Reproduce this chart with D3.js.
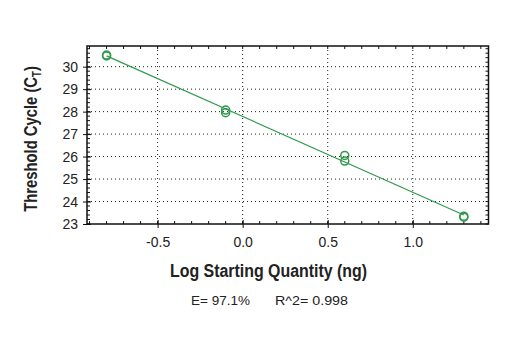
<!DOCTYPE html>
<html><head><meta charset="utf-8">
<script src="https://cdn.jsdelivr.net/npm/d3@7"></script>
<style>
body{margin:0;background:#fff;}
svg text{font-family:"Liberation Sans",Arial,sans-serif;}
</style></head>
<body><svg id="c" width="520" height="350"></svg>
<script>
const logQuantity = [-0.8, -0.8, -0.1, -0.1, 0.6, 0.6, 1.3, 1.3];
const thresholdCycle = [30.52, 30.48, 28.07, 27.95, 26.05, 25.8, 23.35, 23.3];
const xTicks = [-0.5, 0.0, 0.5, 1.0];
const yTicks = [23, 24, 25, 26, 27, 28, 29, 30];
const xLabel = "Log Starting Quantity (ng)";
const yLabel = "Threshold Cycle (C";
const yLabelSub = "T";
const statE = "E= 97.1%";
const statR = "R^2= 0.998";

const svg = d3.select("#c");
const L = 87, R = 488.5, T = 46, B = 224;
const x = d3.scaleLinear().domain([-0.915, 1.445]).range([L, R]);
const y = d3.scaleLinear().domain([23, 30.92]).range([B, T]);
const green = "#2f9a4c";
const fmtX = d => d3.format(".1f")(d).replace("\u2212", "-");

const g = svg.append("g");
g.selectAll(".gx").data(xTicks).join("line")
  .attr("x1", d => x(d)).attr("x2", d => x(d)).attr("y1", T).attr("y2", B)
  .attr("stroke", "#222").attr("stroke-width", 1).attr("stroke-dasharray", "1,3");
g.selectAll(".gy").data(yTicks.filter(d => d > 23)).join("line")
  .attr("x1", L).attr("x2", R).attr("y1", d => y(d)).attr("y2", d => y(d))
  .attr("stroke", "#222").attr("stroke-width", 1).attr("stroke-dasharray", "1,3");

const xMinor = d3.range(-9, 15).map(i => i / 10).filter(v => v >= -0.915 && v <= 1.445);
const yMinor = d3.range(115, 155).map(i => i / 5).filter(v => v >= 23 && v <= 30.92);
g.selectAll(".mxb").data(xMinor).join("line")
  .attr("x1", d => x(d)).attr("x2", d => x(d)).attr("y1", B).attr("y2", B - 3).attr("stroke", "#111");
g.selectAll(".mxt").data(xMinor).join("line")
  .attr("x1", d => x(d)).attr("x2", d => x(d)).attr("y1", T).attr("y2", T + 3).attr("stroke", "#111");
g.selectAll(".myl").data(yMinor).join("line")
  .attr("x1", L).attr("x2", L + 3).attr("y1", d => y(d)).attr("y2", d => y(d)).attr("stroke", "#111");
g.selectAll(".myr").data(yMinor).join("line")
  .attr("x1", R).attr("x2", R - 3).attr("y1", d => y(d)).attr("y2", d => y(d)).attr("stroke", "#111");

svg.append("g").attr("transform", `translate(0,${B})`)
  .call(d3.axisBottom(x).tickValues(xTicks).tickFormat(fmtX).tickSize(4).tickPadding(9))
  .call(a => a.select(".domain").remove())
  .call(a => a.selectAll("text").attr("font-size", 14).attr("fill", "#222").attr("font-family", null))
  .call(a => a.selectAll("line").attr("stroke", "#111").attr("y1", -4));
svg.append("g").attr("transform", `translate(${L},0)`)
  .call(d3.axisLeft(y).tickValues(yTicks).tickFormat(d3.format("d")).tickSize(4).tickPadding(5))
  .call(a => a.select(".domain").remove())
  .call(a => a.selectAll("text").attr("font-size", 14).attr("fill", "#222").attr("font-family", null))
  .call(a => a.selectAll("line").attr("stroke", "#111").attr("x1", 4));

svg.append("rect").attr("x", L).attr("y", T).attr("width", R - L).attr("height", B - T)
  .attr("fill", "none").attr("stroke", "#111").attr("stroke-width", 1.5);

const n = logQuantity.length;
const mx = d3.mean(logQuantity), my = d3.mean(thresholdCycle);
let sxy = 0, sxx = 0;
for (let i = 0; i < n; i++) { sxy += (logQuantity[i] - mx) * (thresholdCycle[i] - my); sxx += (logQuantity[i] - mx) ** 2; }
const slope = sxy / sxx, icpt = my - slope * mx;
const [x0, x1] = d3.extent(logQuantity);
svg.append("line").attr("x1", x(x0)).attr("y1", y(icpt + slope * x0))
  .attr("x2", x(x1)).attr("y2", y(icpt + slope * x1))
  .attr("stroke", green).attr("stroke-width", 1.2);

svg.selectAll(".pt").data(logQuantity.map((v, i) => [v, thresholdCycle[i]])).join("circle")
  .attr("cx", d => x(d[0])).attr("cy", d => y(d[1])).attr("r", 4)
  .attr("fill", "none").attr("stroke", green).attr("stroke-width", 1.5);

svg.append("text").attr("x", 170).attr("y", 277)
  .attr("textLength", 197).attr("lengthAdjust", "spacingAndGlyphs")
  .attr("font-size", 17.5).attr("font-weight", "bold").attr("fill", "#222").text(xLabel);
const yl = svg.append("text").attr("transform", "translate(37,139) rotate(-90) scale(0.8,1)")
  .attr("text-anchor", "middle").attr("font-size", 18.5).attr("font-weight", "bold").attr("fill", "#222");
yl.append("tspan").text(yLabel);
yl.append("tspan").attr("font-size", 12).attr("dy", 4).text(yLabelSub);
yl.append("tspan").attr("dy", -4).text(")");
svg.append("text").attr("x", 191).attr("y", 305).attr("textLength", 59).attr("lengthAdjust", "spacingAndGlyphs")
  .attr("font-size", 13.5).attr("fill", "#222").text(statE);
svg.append("text").attr("x", 275).attr("y", 305).attr("textLength", 73).attr("lengthAdjust", "spacingAndGlyphs")
  .attr("font-size", 13.5).attr("fill", "#222").text(statR);
</script></body></html>
